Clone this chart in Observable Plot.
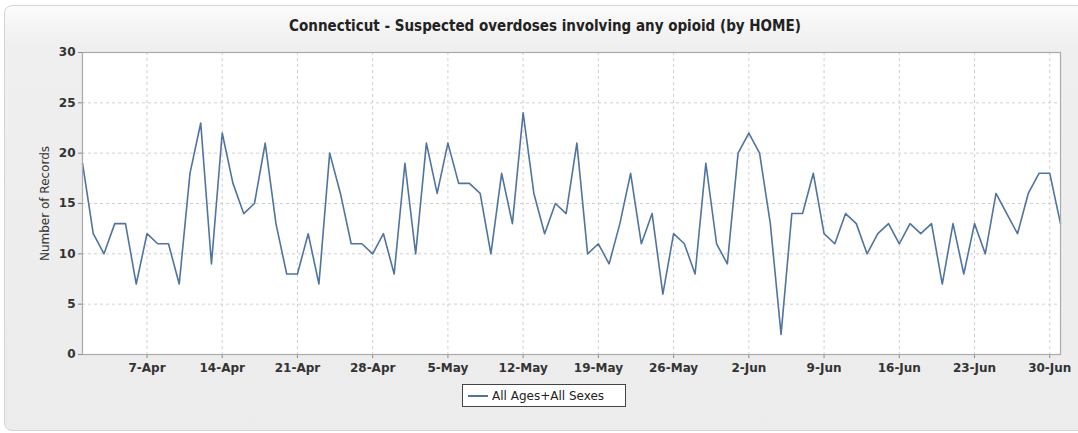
<!DOCTYPE html>
<html>
<head>
<meta charset="utf-8">
<script src="https://cdn.jsdelivr.net/npm/d3@7"></script>
<script src="https://cdn.jsdelivr.net/npm/@observablehq/plot@0.6"></script>
<style>
  html, body { margin: 0; padding: 0; background: #ffffff; width: 1078px; height: 433px; overflow: hidden; }
  #panel {
    position: absolute; left: 4px; top: 5px; width: 1090px; height: 424px;
    border: 1px solid #d4d4d4; border-radius: 8px;
    background: linear-gradient(#fbfbfb 0px, #efefef 40px, #ececec 100%);
  }
  #title {
    position: absolute; left: 0; top: 17px; width: 1090px; text-align: center;
    font-family: "DejaVu Sans Condensed", "DejaVu Sans", sans-serif; font-stretch: condensed;
    font-size: 15px; font-weight: 600; color: #222;
  }
  #chart { position: absolute; left: 0; top: 40px; }
  #chart g[aria-label$="tick label"] text { font-weight: 600; }
  #legend {
    position: absolute; left: 462px; top: 384px; width: 164px; height: 23px;
    border: 1.5px solid #444; background: #fff; box-sizing: border-box;
    font-family: "DejaVu Sans", sans-serif; font-size: 12px; color: #222;
    display: flex; align-items: center;
  }
  #legend .sw { display: inline-block; width: 20px; height: 0; border-top: 2px solid #4f74a0; margin: 0 4px 0 5px; }
</style>
</head>
<body>
<div id="panel"></div>
<div id="title">Connecticut - Suspected overdoses involving any opioid (by HOME)</div>
<div id="chart"></div>
<div id="legend"><span class="sw"></span><span>All Ages+All Sexes</span></div>
<script>
// Daily counts, 1-Apr .. 1-Jul
const seriesName = "All Ages+All Sexes";
const aprilCounts = [19,12,10,13,13,7,12,11,11,7,18,23,9,22,17,14,15,21,13,8,8,12,7,20,16,11,11,10,12,8];
const mayCounts = [19,10,21,16,21,17,17,16,10,18,13,24,16,12,15,14,21,10,11,9,13,18,11,14,6,12,11,8,19,11,9];
const juneCounts = [20,22,20,13,2,14,14,18,12,11,14,13,10,12,13,11,13,12,13,7,13,8,13,10,16,14,12,16,18,18];
const julyCounts = [13];
const yearLabel = 2019;
const yTicks = [0,5,10,15,20,25,30];
const xTickLabels = ["7-Apr","14-Apr","21-Apr","28-Apr","5-May","12-May","19-May","26-May","2-Jun","9-Jun","16-Jun","23-Jun","30-Jun"];

const months = [[3, aprilCounts],[4, mayCounts],[5, juneCounts],[6, julyCounts]];
const data = [];
for (const [m, arr] of months) arr.forEach((v, i) => data.push({date: new Date(Date.UTC(yearLabel, m, i + 1)), value: v}));
const parseTick = d3.utcParse("%Y-%d-%b");
const xTicks = xTickLabels.map(s => parseTick(yearLabel + "-" + s));
const xDomain = [data[0].date, data[data.length - 1].date];

const chart = Plot.plot({
  width: 1078,
  height: 339,
  marginLeft: 82,
  marginRight: 18,
  marginTop: 12,
  marginBottom: 25,
  style: { background: "transparent", fontFamily: "DejaVu Sans, sans-serif", fontSize: "12px", color: "#222" },
  x: { type: "utc", domain: xDomain },
  y: { domain: [0, 30] },
  marks: [
    Plot.frame({ fill: "white", stroke: null }),
    Plot.ruleX(xTicks, { stroke: "#d0d0d0", strokeDasharray: "3,3" }),
    Plot.ruleY(yTicks, { stroke: "#d0d0d0", strokeDasharray: "3,3" }),
    Plot.axisX({ ticks: xTicks, tickFormat: d3.utcFormat("%-d-%b"), tickSize: 4, tickPadding: 5, stroke: "#888", label: null, fontSize: 12, fill: "#333" }),
    Plot.axisY({ ticks: yTicks, tickSize: 4, tickPadding: 3, stroke: "#888", label: "Number of Records", labelAnchor: "center", labelArrow: "none", labelOffset: 42, fontSize: 12, fill: "#333" }),
    Plot.lineY(data, { x: "date", y: "value", stroke: "#4f74a0", strokeWidth: 1.6 }),
    Plot.frame({ stroke: "#aaaaaa", strokeWidth: 1.2 })
  ]
});
document.getElementById("chart").appendChild(chart);
</script>
</body>
</html>
